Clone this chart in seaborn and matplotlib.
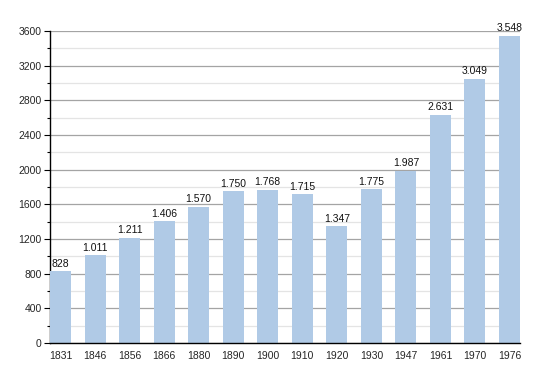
import matplotlib
matplotlib.use("Agg")
import matplotlib.pyplot as plt
import seaborn as sns
import pandas as pd
from matplotlib.ticker import MultipleLocator

years = ["1831", "1846", "1856", "1866", "1880", "1890", "1900", "1910", "1920", "1930", "1947", "1961", "1970", "1976"]
population = [828, 1011, 1211, 1406, 1570, 1750, 1768, 1715, 1347, 1775, 1987, 2631, 3049, 3548]
labels = ["828", "1.011", "1.211", "1.406", "1.570", "1.750", "1.768", "1.715", "1.347", "1.775", "1.987", "2.631", "3.049", "3.548"]

sns.set_style("white")
plt.rcParams['font.family'] = ['Liberation Sans', 'DejaVu Sans']

df = pd.DataFrame({"year": years, "pop": population})

fig = plt.figure(figsize=(5.5, 3.73), dpi=100)
ax = fig.add_axes([50/550, 30/373, 470/550, 312/373])

sns.barplot(data=df, x="year", y="pop", color="#b0cae6", width=0.61, ax=ax,
            zorder=3, saturation=1, linewidth=0, edgecolor="none")

ax.set_ylim(0, 3600)
ax.set_xlim(-0.305, 13.305)
ax.yaxis.set_major_locator(MultipleLocator(400))
ax.yaxis.set_minor_locator(MultipleLocator(200))
ax.grid(axis="y", which="major", color="#a4a4a4", linewidth=0.9, zorder=0)
ax.grid(axis="y", which="minor", color="#e4e4e4", linewidth=0.9, zorder=0)
ax.set_axisbelow(True)

for s in ["top", "right"]:
    ax.spines[s].set_visible(False)
ax.spines["left"].set_color("black")
ax.spines["bottom"].set_color("black")
ax.spines["left"].set_linewidth(1.0)
ax.spines["bottom"].set_linewidth(1.0)
ax.spines["bottom"].set_zorder(5)

ax.tick_params(axis="y", which="major", left=True, length=4, width=0.8, labelsize=7.5, pad=2, color="black")
ax.tick_params(axis="y", which="minor", left=True, length=2, width=0.8, color="black")
ax.tick_params(axis="x", bottom=False, labelsize=7.5, pad=2)
ax.set_xlabel("")
ax.set_ylabel("")

for i, (v, lab) in enumerate(zip(population, labels)):
    ax.text(i, v + 30, lab, ha="center", va="bottom", fontsize=7.5, color="#111111", zorder=4)

fig.savefig("out.png", dpi=100)
